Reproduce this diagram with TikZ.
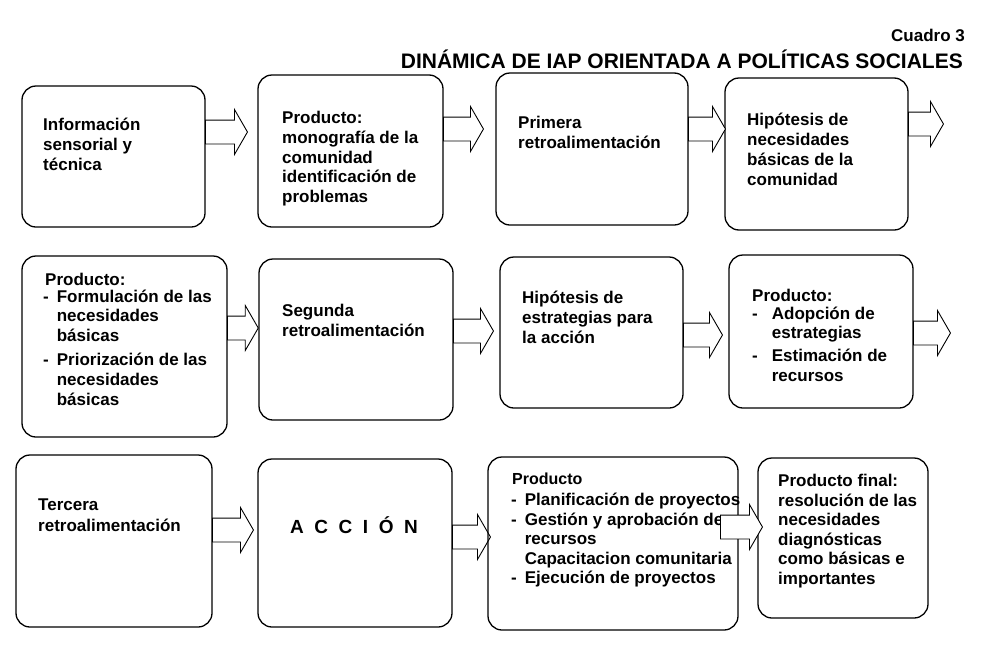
\documentclass[tikz,border=0pt]{standalone}
\usepackage{fontspec}
\setmainfont{Liberation Sans}
\usetikzlibrary{shapes.arrows}
\begin{document}
\begin{tikzpicture}[x=1pt,y=-1pt,
 box/.style={draw,line width=1.3pt,rounded corners=14pt},
 txt/.style={anchor=north west,inner sep=0pt,align=left,font=\fontsize{17}{19.8}\selectfont\bfseries},
 barrow/.style={draw,line width=0.9pt,fill=white,shape=single arrow,single arrow head extend=10.5pt,inner sep=11.5pt,single arrow tip angle=120,anchor=tail}]
\useasboundingbox (0,0) rectangle (981,648);
\node[anchor=east,inner sep=0,font=\fontsize{17}{20}\selectfont\bfseries] (c3) at (965,35) {Cuadro 3};
\node[anchor=east,inner sep=0,font=\fontsize{21}{24}\selectfont\bfseries] (tt) at (963,59) {DINÁMICA DE IAP ORIENTADA A POLÍTICAS SOCIALES};
% row 1
\draw[box] (22,86) rectangle (205,227);
\node[txt] (t1) at (43,118) {Información\\sensorial y\\técnica};
\draw[box] (258,75) rectangle (443,227);
\node[txt] (t2) at (282,111) {Producto:\\monografía de la\\comunidad\\identificación de\\problemas};
\draw[box] (496,73) rectangle (688,225);
\node[txt] (t3) at (518,116) {Primera\\retroalimentación};
\draw[box] (725,78) rectangle (908,230);
\node[txt] (t4) at (747,113) {Hipótesis de\\necesidades\\básicas de la\\comunidad};
\node[barrow,minimum height=42pt] (a1) at (205,132) {};
\node[barrow,minimum height=40pt] (a2) at (443,129) {};
\node[barrow,minimum height=37pt] (a3) at (688,129) {};
\node[barrow,minimum height=35pt] (a4) at (908,124) {};
% row 2
\draw[box] (22,256) rectangle (227,437);
\node[txt] (t5) at (45,273) {Producto:};
\node[txt,anchor=north west] (t5b) at (43,288) {\begin{tabular}[t]{@{}l@{\hspace{8pt}}l@{}}-&Formulación de las\\&necesidades\\&básicas\\[4pt]-&Priorización de las\\&necesidades\\&básicas\end{tabular}};
\draw[box] (259,259) rectangle (453,420);
\node[txt] (t6) at (282,304) {Segunda\\retroalimentación};
\draw[box] (500,257) rectangle (683,408);
\node[txt] (t7) at (522,291) {Hipótesis de\\estrategias para\\la acción};
\draw[box] (729,255) rectangle (913,408);
\node[txt] (t8) at (752,289) {Producto:};
\node[txt] (t8b) at (752,305) {\begin{tabular}[t]{@{}l@{\hspace{14pt}}l@{}}-&Adopción de\\&estrategias\\[3pt]-&Estimación de\\&recursos\end{tabular}};
\node[barrow,minimum height=20pt] (a5) at (227,328) {};
\node[barrow,minimum height=40pt] (a6) at (453,331) {};
\node[barrow,minimum height=39pt] (a7) at (683,335) {};
\node[barrow,minimum height=37pt] (a8) at (913,333) {};
% row 3
\draw[box] (16,455) rectangle (212,627);
\node[txt,font=\fontsize{17}{21}\selectfont\bfseries] (t9) at (38,499) {Tercera\\retroalimentación};
\draw[box] (258,459) rectangle (452,627);
\node[barrow,minimum height=38pt] (a10) at (452,537) {};
\draw[box] (488,457) rectangle (738,630);
\node[inner sep=0,font=\fontsize{19}{22}\selectfont\bfseries] (t10) at (354,525) {A\ \ C\ \ C\ \ I\ \ Ó\ \ N};
\node[txt,font=\fontsize{16}{19.5}\selectfont\bfseries] (t11) at (512,473) {Producto};
\node[txt,font=\fontsize{17}{19.5}\selectfont\bfseries] (t11b) at (511,492) {\begin{tabular}[t]{@{}l@{\hspace{8pt}}l@{}}-&Planificación de proyectos\\-&Gestión y aprobación de\\&recursos\\&Capacitacion comunitaria\\-&Ejecución de proyectos\end{tabular}};
\draw[box] (758,458) rectangle (928,618);
\node[txt,font=\fontsize{17}{19.5}\selectfont\bfseries] (t12) at (778,474) {Producto final:\\resolución de las\\necesidades\\diagnósticas\\como básicas e\\importantes};
\node[barrow,minimum height=41pt] (a9) at (212,530) {};
\node[barrow,minimum height=42pt] (a11) at (720,527) {};
\end{tikzpicture}
\end{document}
